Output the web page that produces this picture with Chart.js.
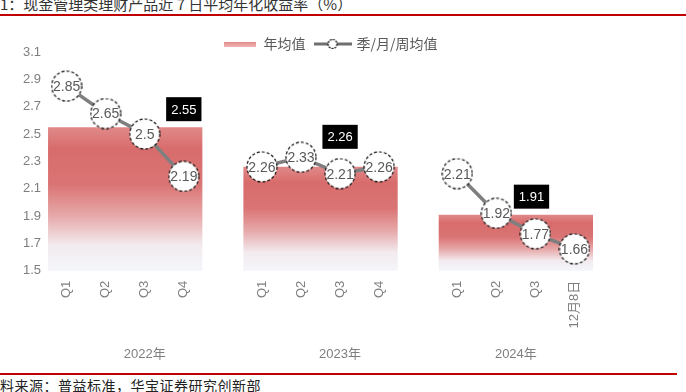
<!DOCTYPE html>
<html><head><meta charset="utf-8">
<script src="https://cdn.jsdelivr.net/npm/chart.js@4.4.1/dist/chart.umd.min.js"></script>
<style>
html,body{margin:0;padding:0;background:#fff;width:686px;height:392px;overflow:hidden;position:relative;font-family:"Noto Sans CJK SC",sans-serif;}
#title{position:absolute;left:0;top:-5px;font-size:15px;line-height:18px;color:#333;white-space:pre;}
#topline{position:absolute;left:0;top:14px;width:686px;height:2px;background:#c00000;}
#wrap{position:absolute;left:0;top:16px;width:686px;height:354px;}
#botline{position:absolute;left:0;top:373px;width:677px;height:2px;background:#c00000;}
#src{position:absolute;left:0;top:377px;font-size:14px;line-height:16px;color:#222;letter-spacing:0.5px;white-space:pre;}
</style></head>
<body>
<div id="title">1：现金管理类理财产品近 7 日平均年化收益率（%）</div>
<div id="topline"></div>
<div id="wrap"><canvas id="c" width="686" height="354"></canvas></div>
<div id="botline"></div>
<div id="src">料来源：普益标准，华宝证券研究创新部</div>
<script>
// ---- data ----
const years = ['2022年', '2023年', '2024年'];
const periods2022 = ['Q1', 'Q2', 'Q3', 'Q4'];
const periods2023 = ['Q1', 'Q2', 'Q3', 'Q4'];
const periods2024 = ['Q1', 'Q2', 'Q3', '12月8日'];
const values2022 = [2.85, 2.65, 2.5, 2.19];
const values2023 = [2.26, 2.33, 2.21, 2.26];
const values2024 = [2.21, 1.92, 1.77, 1.66];
const yearAvg = [2.55, 2.26, 1.91];
const yTicks = [1.5, 1.7, 1.9, 2.1, 2.3, 2.5, 2.7, 2.9, 3.1];
const seriesNames = ['年均值', '季/月/周均值'];

// ---- build category structure ----
const groups = [[periods2022, values2022], [periods2023, values2023], [periods2024, values2024]];
const labels = [], lineData = [], barData = [], yearCenters = [];
groups.forEach(([p, v], g) => {
  const start = labels.length;
  p.forEach((lab, i) => { labels.push(lab); lineData.push(v[i]); });
  barData.push({x: start + (p.length - 1) / 2, y: yearAvg[g]});
  if (g < groups.length - 1) { labels.push(''); lineData.push(null); }
  yearCenters.push(start + (labels.length - 1 - start) / 2);
});
const xMin = -0.5, xMax = labels.length - 0.5;

const NUMFONT = '"Liberation Sans", Arial, "Noto Sans CJK SC", sans-serif';
Chart.defaults.font.family = NUMFONT;

function mkCircle(r, dash) {
  const c = document.createElement('canvas');
  c.width = c.height = 2 * r + 2;
  const x = c.getContext('2d');
  x.beginPath(); x.arc(r + 1, r + 1, r, 0, Math.PI * 2);
  x.fillStyle = '#fff'; x.fill();
  x.setLineDash(dash); x.lineWidth = 1.2; x.strokeStyle = '#111'; x.stroke();
  return c;
}
function mkBarSwatch() {
  const c = document.createElement('canvas'); c.width = 32; c.height = 5;
  const x = c.getContext('2d');
  const g = x.createLinearGradient(0, 0, 0, 5);
  g.addColorStop(0, '#e28686'); g.addColorStop(1, '#eeb3b3');
  x.fillStyle = g; x.fillRect(0, 0, 32, 5);
  return c;
}
function mkLineSwatch() {
  const c = document.createElement('canvas'); c.width = 38; c.height = 12;
  const x = c.getContext('2d');
  x.strokeStyle = '#6f6f6f'; x.lineWidth = 3;
  x.beginPath(); x.moveTo(0, 6); x.lineTo(38, 6); x.stroke();
  x.beginPath(); x.arc(19, 6, 4.5, 0, Math.PI * 2);
  x.fillStyle = '#fff'; x.fill(); x.setLineDash([2, 1]); x.lineWidth = 1.2; x.strokeStyle = '#111'; x.stroke();
  return c;
}
const pointImg = mkCircle(15, [3, 2]);
const barSw = mkBarSwatch(), lineSw = mkLineSwatch();

function barGradient(ctx) {
  const chart = ctx.chart;
  if (!chart.chartArea || ctx.type !== 'data') return '#dc7676';
  const ys = chart.scales.y;
  const top = ys.getPixelForValue(ctx.raw.y), bot = ys.getPixelForValue(ys.min);
  const g = chart.ctx.createLinearGradient(0, top, 0, bot);
  g.addColorStop(0, '#e08989');
  g.addColorStop(0.15, '#d86c6c');
  g.addColorStop(0.4, '#da7474');
  g.addColorStop(0.62, '#e7a9aa');
  g.addColorStop(0.82, '#f2eaee');
  g.addColorStop(1, '#f4f6fb');
  return g;
}

const labelPlugin = {
  id: 'valueLabels',
  afterLayout(chart, args, opts) {
    const lg = chart.legend;
    if (lg) {
      const sx = opts.legendCenterX - (lg.left + lg.right) / 2;
      lg.left += sx; lg.right += sx;
      lg.top += opts.legendShiftY; lg.bottom += opts.legendShiftY;
    }
  },
  afterDatasetsDraw(chart, args, opts) {
    const ctx = chart.ctx;
    ctx.save();
    const lm = chart.getDatasetMeta(1);
    ctx.font = '14px ' + NUMFONT;
    ctx.fillStyle = '#595959';
    ctx.textAlign = 'center'; ctx.textBaseline = 'middle';
    lm.data.forEach((pt, i) => {
      const v = lineData[i];
      if (v == null) return;
      ctx.fillText(String(v), pt.x, pt.y + 1);
    });
    const bm = chart.getDatasetMeta(0);
    const xb = chart.scales.xb;
    ctx.font = '13px ' + NUMFONT;
    bm.data.forEach((bar, i) => {
      const o = opts.avgOffsets[i];
      const cx = xb.getPixelForValue(barData[i].x + o[0]);
      const cy = bar.y + o[1];
      const t = yearAvg[i].toFixed(2);
      const w = ctx.measureText(t).width + 10, h = 24;
      ctx.fillStyle = '#000';
      ctx.fillRect(cx - w / 2, cy - h / 2, w, h);
      ctx.fillStyle = '#fff';
      ctx.fillText(t, cx, cy + 1);
    });
    ctx.restore();
  }
};

new Chart(document.getElementById('c'), {
  type: 'bar',
  data: {
    labels: labels,
    datasets: [
      {
        label: seriesNames[0], type: 'bar', data: barData, xAxisID: 'xb', yAxisID: 'y',
        backgroundColor: barGradient, borderWidth: 0, grouped: false,
        categoryPercentage: 1, barPercentage: 0.79, order: 2
      },
      {
        label: seriesNames[1], type: 'line', data: lineData, xAxisID: 'x', yAxisID: 'y',
        borderColor: '#7f7f7f', borderWidth: 3.5, fill: false, tension: 0,
        pointStyle: pointImg, pointRadius: 15, spanGaps: false, order: 1
      }
    ]
  },
  options: {
    responsive: false, animation: false, events: [],
    layout: {padding: {left: 17, right: 92, top: 2, bottom: 0}},
    plugins: {
      tooltip: {enabled: false},
      valueLabels: {avgOffsets: [[1.5, -18], [0.5, -30], [0.4, -18]], legendCenterX: 330, legendShiftY: 9},
      legend: {
        position: 'top',
        labels: {
          usePointStyle: true, pointStyleWidth: 34, padding: 10, color: '#595959',
          font: {size: 14, family: '"Noto Sans CJK SC", sans-serif'},
          generateLabels: () => [
            {text: seriesNames[0], pointStyle: barSw, fontColor: '#595959', datasetIndex: 0, lineWidth: 0, hidden: false},
            {text: seriesNames[1], pointStyle: lineSw, fontColor: '#595959', datasetIndex: 1, lineWidth: 0, hidden: false}
          ]
        }
      }
    },
    scales: {
      x: {
        type: 'category', position: 'bottom', offset: true, weight: 0,
        grid: {display: false, drawTicks: false}, border: {display: false},
        ticks: {autoSkip: false, minRotation: 90, maxRotation: 90, color: '#7f7f7f', font: {size: 13}, padding: 10}
      },
      xYear: {
        type: 'linear', position: 'bottom', min: xMin, max: xMax, weight: 1, offset: false,
        grid: {display: false, drawTicks: false}, border: {display: false},
        afterBuildTicks: (s) => { s.ticks = yearCenters.map(v => ({value: v})); },
        ticks: {autoSkip: false, maxRotation: 0, color: '#7f7f7f', font: {size: 13}, padding: 8,
          callback: (v, i) => years[i]}
      },
      xb: {
        type: 'linear', display: false, min: xMin, max: xMax, offset: false,
        afterBuildTicks: (s) => { s.ticks = barData.map(d => ({value: d.x})); }
      },
      y: {
        type: 'linear', min: yTicks[0], max: yTicks[yTicks.length - 1], beginAtZero: false,
        grid: {display: false, drawTicks: false}, border: {display: false},
        afterBuildTicks: (s) => { s.ticks = yTicks.map(v => ({value: v})); },
        ticks: {color: '#7f7f7f', font: {size: 13}, padding: 6, callback: (v) => String(v)}
      }
    }
  },
  plugins: [labelPlugin]
});
</script>
</body></html>
